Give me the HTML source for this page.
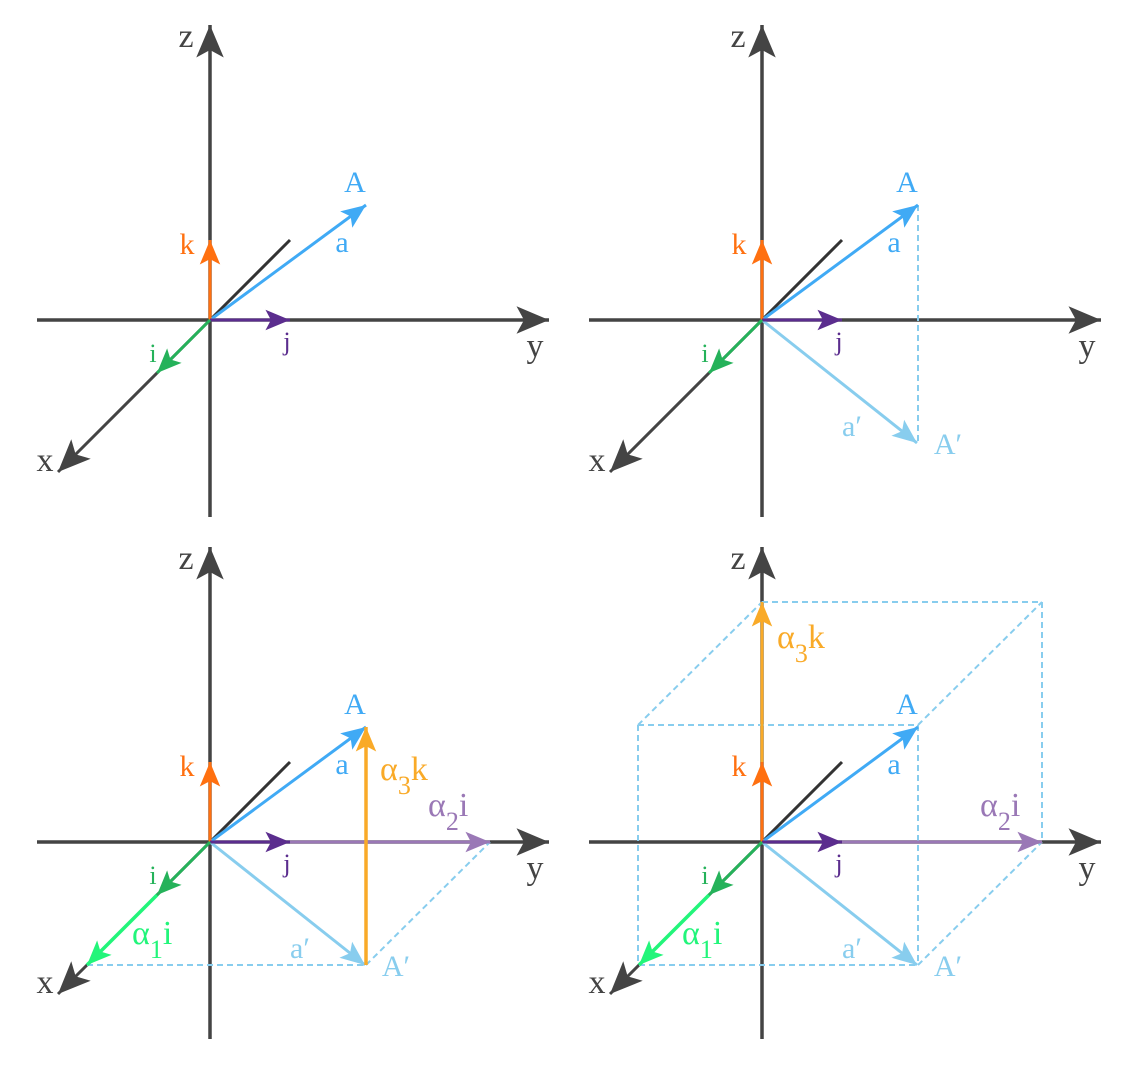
<!DOCTYPE html>
<html><head><meta charset="utf-8"><style>
html,body{margin:0;padding:0;background:#fff;}
svg{display:block;}
text{font-family:"Liberation Serif",serif;}
</style></head><body>
<svg width="1125" height="1080" viewBox="0 0 1125 1080" xmlns="http://www.w3.org/2000/svg">
<defs>
<marker id="mk" markerUnits="userSpaceOnUse" markerWidth="40" markerHeight="40" viewBox="-30 -15 32 30" refX="0" refY="0" orient="auto" overflow="visible"><path d="M0,0 L-26,-11 L-20,0 L-26,11 z" fill="#444"/></marker>
<marker id="mo" markerUnits="userSpaceOnUse" markerWidth="30" markerHeight="30" viewBox="-20 -10 22 20" refX="0" refY="0" orient="auto" overflow="visible"><path d="M0,0 L-18,-7.5 L-14,0 L-18,7.5 z" fill="#ff7010"/></marker>
<marker id="mp" markerUnits="userSpaceOnUse" markerWidth="30" markerHeight="30" viewBox="-20 -10 22 20" refX="0" refY="0" orient="auto" overflow="visible"><path d="M0,0 L-18,-7.5 L-14,0 L-18,7.5 z" fill="#5b2d8e"/></marker>
<marker id="mg" markerUnits="userSpaceOnUse" markerWidth="30" markerHeight="30" viewBox="-20 -10 22 20" refX="0" refY="0" orient="auto" overflow="visible"><path d="M0,0 L-18,-7.5 L-14,0 L-18,7.5 z" fill="#25b25a"/></marker>
<marker id="mb" markerUnits="userSpaceOnUse" markerWidth="30" markerHeight="30" viewBox="-20 -10 22 20" refX="0" refY="0" orient="auto" overflow="visible"><path d="M0,0 L-18,-7.5 L-14,0 L-18,7.5 z" fill="#40aaf5"/></marker>
<marker id="ml" markerUnits="userSpaceOnUse" markerWidth="30" markerHeight="30" viewBox="-20 -10 22 20" refX="0" refY="0" orient="auto" overflow="visible"><path d="M0,0 L-18,-7.5 L-14,0 L-18,7.5 z" fill="#88cdee"/></marker>
<marker id="my" markerUnits="userSpaceOnUse" markerWidth="30" markerHeight="30" viewBox="-20 -10 22 20" refX="0" refY="0" orient="auto" overflow="visible"><path d="M0,0 L-18,-7.5 L-14,0 L-18,7.5 z" fill="#f9aa28"/></marker>
<marker id="mv" markerUnits="userSpaceOnUse" markerWidth="30" markerHeight="30" viewBox="-20 -10 22 20" refX="0" refY="0" orient="auto" overflow="visible"><path d="M0,0 L-18,-7.5 L-14,0 L-18,7.5 z" fill="#9a78b6"/></marker>
<marker id="mG" markerUnits="userSpaceOnUse" markerWidth="30" markerHeight="30" viewBox="-20 -10 22 20" refX="0" refY="0" orient="auto" overflow="visible"><path d="M0,0 L-18,-7.5 L-14,0 L-18,7.5 z" fill="#22f57a"/></marker>

<g id="base">
<line x1="0" y1="197" x2="0" y2="-295" stroke="#444" stroke-width="3.5" marker-end="url(#mk)"/>
<line x1="-173" y1="0" x2="339" y2="0" stroke="#444" stroke-width="3.5" marker-end="url(#mk)"/>
<line x1="0" y1="0" x2="-152" y2="152" stroke="#444" stroke-width="3" marker-end="url(#mk)"/>
<line x1="0" y1="0" x2="80" y2="-80" stroke="#333" stroke-width="3"/>
<text x="-24" y="-273" font-size="34" fill="#444" text-anchor="middle">z</text>
<text x="325" y="37" font-size="34" fill="#444" text-anchor="middle">y</text>
<text x="-165" y="151" font-size="34" fill="#444" text-anchor="middle">x</text>
</g>
<g id="vecs">
<line x1="0" y1="0" x2="156" y2="-115" stroke="#40aaf5" stroke-width="3" marker-end="url(#mb)"/>
<line x1="0" y1="0" x2="0" y2="-80" stroke="#ff7010" stroke-width="3" marker-end="url(#mo)"/>
<line x1="0" y1="0" x2="80" y2="0" stroke="#5b2d8e" stroke-width="3" marker-end="url(#mp)"/>
<line x1="0" y1="0" x2="-53" y2="53" stroke="#25b25a" stroke-width="3" marker-end="url(#mg)"/>
<text x="-23" y="-66" font-size="30" fill="#ff7010" text-anchor="middle">k</text>
<text x="145" y="-128" font-size="30" fill="#40aaf5" text-anchor="middle">A</text>
<text x="132" y="-68" font-size="30" fill="#40aaf5" text-anchor="middle">a</text>
<text x="77" y="30" font-size="26" fill="#5b2d8e" text-anchor="middle">j</text>
<text x="-57" y="42" font-size="26" fill="#25b25a" text-anchor="middle">i</text>
</g>
</defs>

<g transform="translate(210,320)"><use href="#base"/><use href="#vecs"/></g>

<g transform="translate(762,320)">
<use href="#base"/>
<line x1="156" y1="-115" x2="156" y2="123" stroke="#88cdee" stroke-width="2" stroke-dasharray="6,4"/>
<line x1="0" y1="0" x2="155" y2="123" stroke="#88cdee" stroke-width="3" marker-end="url(#ml)"/>
<use href="#vecs"/>
<text x="90" y="116" font-size="30" fill="#88cdee" text-anchor="middle">a′</text>
<text x="186" y="134" font-size="30" fill="#88cdee" text-anchor="middle">A′</text>
</g>

<g transform="translate(210,842)">
<use href="#base"/>
<line x1="-123" y1="123" x2="156" y2="123" stroke="#88cdee" stroke-width="2" stroke-dasharray="6,4"/>
<line x1="156" y1="123" x2="280" y2="0" stroke="#88cdee" stroke-width="2" stroke-dasharray="6,4"/>
<line x1="0" y1="0" x2="280" y2="0" stroke="#9a78b6" stroke-width="3" marker-end="url(#mv)"/>
<line x1="-53" y1="53" x2="-123" y2="123" stroke="#22f57a" stroke-width="3.5" marker-end="url(#mG)"/>
<line x1="0" y1="0" x2="155" y2="123" stroke="#88cdee" stroke-width="3" marker-end="url(#ml)"/>
<use href="#vecs"/>
<line x1="156" y1="123" x2="156" y2="-115" stroke="#f9aa28" stroke-width="3.5" marker-end="url(#my)"/>
<text x="90" y="116" font-size="30" fill="#88cdee" text-anchor="middle">a′</text>
<text x="186" y="134" font-size="30" fill="#88cdee" text-anchor="middle">A′</text>
<text x="170" y="-62" font-size="34" fill="#f9aa28">α<tspan font-size="26" dy="14">3</tspan><tspan dy="-14">k</tspan></text>
<text x="218" y="-26" font-size="34" fill="#9a78b6">α<tspan font-size="26" dy="14">2</tspan><tspan dy="-14">i</tspan></text>
<text x="-78" y="102" font-size="34" fill="#22f57a">α<tspan font-size="26" dy="14">1</tspan><tspan dy="-14">i</tspan></text>
</g>

<g transform="translate(762,842)">
<use href="#base"/>
<g stroke="#88cdee" stroke-width="2" stroke-dasharray="6,4" fill="none">
<line x1="0" y1="-240" x2="280" y2="-240"/>
<line x1="-124" y1="-117" x2="156" y2="-117"/>
<line x1="-124" y1="-117" x2="0" y2="-240"/>
<line x1="156" y1="-117" x2="280" y2="-240"/>
<line x1="280" y1="-240" x2="280" y2="0"/>
<line x1="-124" y1="-117" x2="-124" y2="123"/>
<line x1="156" y1="-117" x2="156" y2="123"/>
<line x1="-123" y1="123" x2="156" y2="123"/>
<line x1="156" y1="123" x2="280" y2="0"/>
</g>
<line x1="0" y1="0" x2="280" y2="0" stroke="#9a78b6" stroke-width="3" marker-end="url(#mv)"/>
<line x1="-53" y1="53" x2="-123" y2="123" stroke="#22f57a" stroke-width="3.5" marker-end="url(#mG)"/>
<line x1="0" y1="0" x2="155" y2="123" stroke="#88cdee" stroke-width="3" marker-end="url(#ml)"/>
<line x1="0" y1="0" x2="0" y2="-240" stroke="#f9aa28" stroke-width="3" marker-end="url(#my)"/>
<use href="#vecs"/>
<text x="90" y="116" font-size="30" fill="#88cdee" text-anchor="middle">a′</text>
<text x="186" y="134" font-size="30" fill="#88cdee" text-anchor="middle">A′</text>
<text x="15" y="-194" font-size="34" fill="#f9aa28">α<tspan font-size="26" dy="14">3</tspan><tspan dy="-14">k</tspan></text>
<text x="218" y="-26" font-size="34" fill="#9a78b6">α<tspan font-size="26" dy="14">2</tspan><tspan dy="-14">i</tspan></text>
<text x="-80" y="102" font-size="34" fill="#22f57a">α<tspan font-size="26" dy="14">1</tspan><tspan dy="-14">i</tspan></text>
</g>
</svg>
</body></html>
